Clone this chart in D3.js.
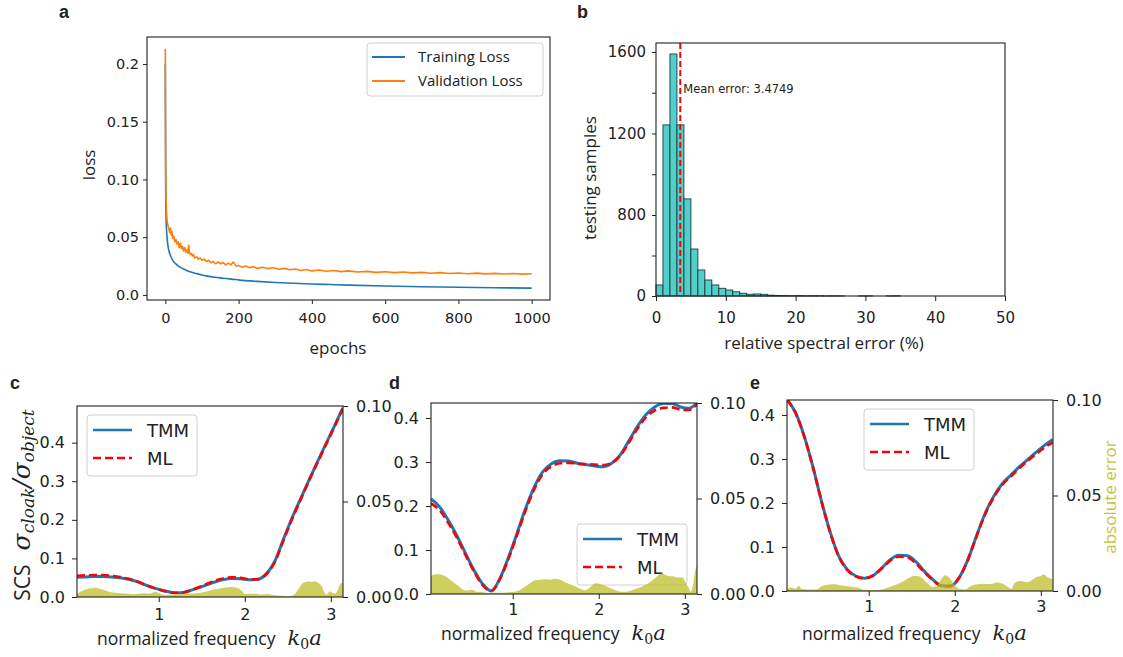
<!DOCTYPE html>
<html>
<head>
<meta charset="utf-8">
<script src="https://d3js.org/d3.v7.min.js"></script>
<style>
  body{margin:0;background:#fff;}
  svg text{font-family:"DejaVu Sans",sans-serif;fill:#222;}
  .lab{font-family:"Open Sans",sans-serif;}
  .plab{font-family:"Liberation Sans",sans-serif;font-weight:bold;font-size:18px;}
  .math{font-family:"DejaVu Serif",serif;font-style:italic;}
</style>
</head>
<body>
<svg id="fig" width="1123" height="657"></svg>
<script>
// ---------- data: panel a (loss curves) ----------
var trainLoss = [[0,0.2],[1,0.09],[2,0.068],[3,0.058],[5,0.049],[7,0.043],[10,0.038],[13,0.035],[17,0.032],
  [21,0.0295],[30,0.0265],[39,0.0243],[50,0.0225],[57,0.0214],[70,0.0198],[85,0.0185],[100,0.0173],[112,0.0165],
  [135,0.0153],[157,0.0145],[180,0.0137],[203,0.0128],[250,0.0117],[300,0.0108],[350,0.0101],[400,0.0095],
  [450,0.009],[500,0.0085],[600,0.0077],[700,0.0071],[800,0.0066],[900,0.0062],[1000,0.0059]];
var valLoss = [[0,0.213],[1,0.11],[2,0.085],[3,0.073],[4,0.068],[5,0.064],[6,0.062],[8,0.059],[10,0.057],[12,0.054],
  [14,0.058],[16,0.052],[18,0.055],[20,0.049],[23,0.051],[26,0.046],[29,0.048],[32,0.044],[35,0.046],[38,0.041],
  [41,0.045],[44,0.04],[47,0.042],[50,0.038],[53,0.041],[56,0.037],[59,0.039],[62,0.036],[64,0.043],[66,0.037],
  [68,0.035],[71,0.036],[74,0.034],[77,0.035],[80,0.032],[85,0.033],[90,0.031],[95,0.032],[100,0.03],[106,0.031],
  [112,0.029],[118,0.03],[124,0.028],[130,0.029],[137,0.027],[144,0.0285],[151,0.027],[158,0.028],[165,0.026],
  [172,0.0275],[179,0.026],[186,0.0285],[193,0.025],[200,0.0255],[210,0.024],[220,0.025],[230,0.0235],[240,0.0245],
  [250,0.023],[265,0.024],[280,0.0228],[295,0.0236],[310,0.0222],[325,0.023],[340,0.0218],[355,0.0225],[370,0.0212],
  [385,0.022],[400,0.0208],[420,0.0216],[440,0.0205],[460,0.0212],[480,0.0202],[500,0.0208],[525,0.0198],[550,0.0204],
  [575,0.0195],[600,0.0201],[625,0.0193],[650,0.0198],[675,0.0191],[700,0.0195],[725,0.0188],[750,0.0193],[775,0.0186],
  [800,0.019],[825,0.0184],[850,0.0189],[875,0.0182],[900,0.0187],[925,0.0181],[950,0.0185],[975,0.018],[1000,0.0183]];
var epochTicks = [0,200,400,600,800,1000];
var lossTicks = [0,0.05,0.1,0.15,0.2];
var lossTickLabels = ["0.0","0.05","0.10","0.15","0.2"];

// ---------- data: panel b (histogram, 1% bins) ----------
var histCounts = [109,1242,1590,1242,879,464,257,158,109,76,59,42,27,17,20,17,8,5,4,3,
  4,2,3,2,1,2,1,0,0,1,1,0,0,1,2,0,0,0,0,0,0,0,0,0,0,0,0,0,0,0];
var meanError = 3.4749;
var errTicks = [0,10,20,30,40,50];
var countTicks = [0,400,800,1000,1200,1400,1600];
var countTickLabels = {0:"0",800:"800",1200:"1200",1600:"1600"};

// ---------- data: panels c, d, e (scattering spectra) ----------
var freq = [0.05,0.15,0.25,0.35,0.45,0.55,0.65,0.75,0.85,0.95,1.05,1.15,1.25,1.35,1.45,1.55,
  1.65,1.75,1.85,1.95,2.05,2.15,2.25,2.35,2.45,2.55,2.65,2.75,2.85,2.95,3.05,3.14];
var tmmC = [0.051,0.052,0.053,0.053,0.052,0.05,0.046,0.04,0.031,0.023,0.017,0.012,0.011,0.0155,0.023,0.031,
  0.039,0.045,0.048,0.047,0.045,0.046,0.06,0.093,0.15,0.205,0.255,0.305,0.353,0.4,0.447,0.49];
var mlC = [0.055,0.056,0.057,0.057,0.055,0.052,0.047,0.04,0.031,0.023,0.016,0.011,0.0105,0.0155,0.024,0.033,
  0.042,0.048,0.051,0.05,0.046,0.046,0.059,0.091,0.147,0.202,0.253,0.303,0.351,0.398,0.445,0.488];
var errC = [[0.05,0.0015],[0.1,0.003],[0.19,0.0045],[0.27,0.0049],[0.34,0.004],[0.42,0.0028],[0.5,0.0022],[0.61,0.0018],
  [0.7,0.0015],[0.81,0.002],[0.9,0.0018],[0.96,0.0028],[1.0,0.0022],[1.04,0.0012],[1.19,0.0013],[1.3,0.0016],[1.39,0.0018],
  [1.5,0.0024],[1.58,0.0031],[1.66,0.004],[1.73,0.0046],[1.85,0.0052],[1.93,0.0045],[1.97,0.003],[2.0,0.0016],[2.12,0.0017],
  [2.2,0.0013],[2.27,0.0014],[2.35,0.0009],[2.43,0.0007],[2.52,0.0004],[2.58,0.0014],[2.62,0.004],[2.66,0.0066],[2.71,0.0079],
  [2.74,0.0082],[2.78,0.0078],[2.81,0.0082],[2.86,0.0072],[2.89,0.006],[2.92,0.003],[2.95,0.0012],[2.99,0.003],[3.02,0.0022],
  [3.05,0.0018],[3.08,0.0035],[3.11,0.007],[3.14,0.0075]];

var tmmD = [0.216,0.198,0.168,0.133,0.093,0.054,0.023,0.007,0.035,0.083,0.138,0.195,0.243,0.278,0.296,0.303,
  0.302,0.297,0.294,0.291,0.289,0.297,0.316,0.348,0.381,0.408,0.425,0.433,0.433,0.425,0.422,0.434];
var mlD = [0.206,0.19,0.162,0.128,0.089,0.051,0.02,0.007,0.033,0.08,0.134,0.19,0.238,0.273,0.29,0.297,
  0.298,0.296,0.295,0.294,0.293,0.298,0.314,0.344,0.376,0.402,0.417,0.423,0.424,0.419,0.418,0.431];
var errD = [[0.05,0.0095],[0.1,0.0104],[0.14,0.0103],[0.21,0.0094],[0.29,0.0068],[0.37,0.0042],[0.45,0.0018],[0.52,0.0022],
  [0.58,0.0012],[0.64,0.001],[0.72,0.0005],[0.79,0.0008],[0.88,0.0006],[0.99,0.001],[1.05,0.0015],[1.1,0.0026],[1.18,0.005],
  [1.26,0.0072],[1.32,0.0075],[1.38,0.0077],[1.44,0.0075],[1.49,0.008],[1.55,0.0074],[1.61,0.0062],[1.72,0.0042],[1.84,0.002],
  [1.9,0.0035],[1.96,0.0056],[2.03,0.005],[2.1,0.0038],[2.15,0.0028],[2.27,0.0012],[2.35,0.0015],[2.42,0.0025],[2.5,0.0038],
  [2.58,0.0058],[2.66,0.0085],[2.73,0.0108],[2.78,0.0098],[2.81,0.0094],[2.87,0.0092],[2.93,0.0086],[2.97,0.0088],[3.0,0.0068],
  [3.04,0.0035],[3.07,0.0012],[3.1,0.006],[3.12,0.012],[3.14,0.0147]];

var tmmE = [0.435,0.405,0.352,0.283,0.205,0.135,0.08,0.049,0.034,0.029,0.035,0.052,0.071,0.081,0.08,0.066,
  0.044,0.025,0.012,0.011,0.03,0.07,0.124,0.175,0.214,0.243,0.263,0.282,0.299,0.316,0.332,0.344];
var mlE = [0.435,0.404,0.351,0.282,0.204,0.134,0.079,0.048,0.033,0.029,0.035,0.051,0.069,0.078,0.076,0.062,
  0.042,0.024,0.011,0.012,0.03,0.07,0.123,0.173,0.212,0.241,0.26,0.279,0.296,0.312,0.327,0.337];
var errE = [[0.05,0.0012],[0.1,0.0018],[0.15,0.0012],[0.19,0.0028],[0.22,0.001],[0.3,0.0008],[0.4,0.0009],[0.45,0.0025],
  [0.5,0.0032],[0.59,0.0035],[0.67,0.003],[0.75,0.0025],[0.86,0.0018],[0.95,0.0006],[1.05,0.0004],[1.15,0.0008],[1.25,0.0022],
  [1.33,0.0035],[1.41,0.0053],[1.47,0.007],[1.52,0.0079],[1.57,0.0078],[1.62,0.0068],[1.68,0.0042],[1.74,0.0022],[1.79,0.0025],
  [1.84,0.006],[1.89,0.0082],[1.94,0.0068],[1.99,0.0035],[2.05,0.0012],[2.12,0.0008],[2.18,0.0025],[2.24,0.0034],[2.34,0.0038],
  [2.42,0.0036],[2.49,0.0044],[2.56,0.0038],[2.61,0.0024],[2.66,0.0012],[2.7,0.0045],[2.76,0.0052],[2.84,0.0046],[2.9,0.0058],
  [2.96,0.0074],[3.0,0.0078],[3.03,0.0088],[3.08,0.0072],[3.14,0.0062]];

var freqTicks = [1,2,3];
var scsTicks = [0,0.1,0.2,0.3,0.4];
var absTicks = [0,0.05,0.1];
var seriesNames = ["TMM","ML"];

var blue = "#1f77b4", orange = "#ff7f0e", olive = "#bcbd22", oliveText = "#c4c43c";

var svg = d3.select("#fig");
svg.append("rect").attr("width",1123).attr("height",657).attr("fill","#fff");

//style an axis group: drop domain line, set tick font
function styleAxis(g, size, color){
  g.select(".domain").remove();
  g.selectAll(".tick line").attr("stroke","#222");
  g.selectAll(".tick text").attr("font-family","DejaVu Sans").attr("font-size",size)
    .attr("fill", color || "#222");
  return g;
}

function frame(l,t,r,b){
  svg.append("rect").attr("x",l).attr("y",t).attr("width",r-l).attr("height",b-t)
    .attr("fill","none").attr("stroke","#222").attr("stroke-width",1.1);
}

// ================= panel a =================
var ax = d3.scaleLinear().domain([-50,1050]).range([147,550]);
var ay = d3.scaleLinear().domain([-0.0044,0.2234]).range([300,37]);

svg.append("defs").append("clipPath").attr("id","clipA")
  .append("rect").attr("x",147).attr("y",37).attr("width",403).attr("height",263);

var lineA = d3.line().x(function(d){ return ax(d[0]); }).y(function(d){ return ay(d[1]); });
svg.append("path").attr("d", lineA.curve(d3.curveMonotoneX)(trainLoss)).attr("fill","none")
  .attr("stroke",blue).attr("stroke-width",1.6).attr("clip-path","url(#clipA)");
svg.append("path").attr("d", lineA.curve(d3.curveLinear)(valLoss)).attr("fill","none")
  .attr("stroke",orange).attr("stroke-width",1.6).attr("stroke-linejoin","round").attr("clip-path","url(#clipA)");

frame(147,37,550,300);
styleAxis(svg.append("g").attr("transform","translate(0,300)")
  .call(d3.axisBottom(ax).tickValues(epochTicks).tickSize(4).tickPadding(9).tickSizeOuter(0)
    .tickFormat(d3.format("d"))), "14.5px");
styleAxis(svg.append("g").attr("transform","translate(147,0)")
  .call(d3.axisLeft(ay).tickValues(lossTicks).tickSize(4).tickPadding(4).tickSizeOuter(0)
    .tickFormat(function(d,i){ return lossTickLabels[i]; })), "14.5px");

svg.append("text").attr("class","lab").attr("x",338).attr("y",354).attr("text-anchor","middle")
  .attr("font-size","17px").text("epochs");
svg.append("text").attr("class","lab").attr("transform","translate(95,165) rotate(-90)")
  .attr("text-anchor","middle").attr("font-size","17px").text("loss");

// legend a
var legA = svg.append("g");
legA.append("rect").attr("x",367).attr("y",43).attr("width",176).attr("height",53).attr("rx",3)
  .attr("fill","#fff").attr("fill-opacity",0.8).attr("stroke","#d0d0d0");
[["Training Loss",blue,57],["Validation Loss",orange,81]].forEach(function(e){
  legA.append("line").attr("x1",372).attr("x2",405).attr("y1",e[2]).attr("y2",e[2])
    .attr("stroke",e[1]).attr("stroke-width",2);
  legA.append("text").attr("class","lab").attr("x",418).attr("y",e[2]+5).attr("font-size","15px").text(e[0]);
});
svg.append("text").attr("class","plab").attr("x",59).attr("y",18).text("a");

// ================= panel b =================
var bx = d3.scaleLinear().domain([0,50]).range([656,1005]);
var by = d3.scaleLinear().domain([0,800,1644]).range([296,215,43]);

svg.append("g").selectAll("rect").data(histCounts).enter().append("rect")
  .attr("x", function(d,i){ return bx(i); })
  .attr("y", function(d){ return by(d); })
  .attr("width", function(d,i){ return bx(i+1)-bx(i); })
  .attr("height", function(d){ return by(0)-by(d); })
  .attr("fill","#52cecb").attr("stroke","#1d3b3b").attr("stroke-width",0.9);

svg.append("line").attr("x1",bx(meanError)).attr("x2",bx(meanError)).attr("y1",43).attr("y2",296)
  .attr("stroke","#ff0000").attr("stroke-width",2).attr("stroke-dasharray","6,3");
svg.append("text").attr("x",bx(meanError)+3).attr("y",93).attr("font-size","11.5px")
  .text("Mean error: " + meanError);

frame(656,43,1005,296);
styleAxis(svg.append("g").attr("transform","translate(0,296)")
  .call(d3.axisBottom(bx).tickValues(errTicks).tickSize(5).tickPadding(11).tickSizeOuter(0)), "15px");
styleAxis(svg.append("g").attr("transform","translate(656,0)")
  .call(d3.axisLeft(by).tickValues(countTicks).tickSize(4).tickPadding(6).tickSizeOuter(0)
    .tickFormat(function(d){ return countTickLabels[d] || ""; })), "15px");

svg.append("text").attr("class","lab").attr("x",824).attr("y",349).attr("text-anchor","middle")
  .attr("font-size","17px").text("relative spectral error (%)");
svg.append("text").attr("class","lab").attr("transform","translate(596,178) rotate(-90)")
  .attr("text-anchor","middle").attr("font-size","17px").text("testing samples");
svg.append("text").attr("class","plab").attr("x",577).attr("y",18).text("b");

// ================= panels c, d, e =================
function spectrum(p){
  var x = d3.scaleLinear().domain([0.05,Math.PI]).range([p.l,p.l+266]);
  var y = d3.scaleLinear().domain([0,p.ymax]).range([p.b,p.t]);
  var y2 = d3.scaleLinear().domain([0,0.1]).range([p.b,p.t]);
  var r = p.l+266;
  var cid = "clip"+p.name;
  svg.select("defs").append("clipPath").attr("id",cid)
    .append("rect").attr("x",p.l).attr("y",p.t).attr("width",266).attr("height",p.b-p.t);

  var line = d3.line().curve(d3.curveMonotoneX)
    .x(function(d,i){ return x(freq[i]); }).y(function(d){ return y(d); });
  svg.append("path").attr("d",line(p.tmm)).attr("fill","none").attr("stroke",blue)
    .attr("stroke-width",3).attr("clip-path","url(#"+cid+")");
  svg.append("path").attr("d",line(p.ml)).attr("fill","none").attr("stroke","#ff0000")
    .attr("stroke-width",2.6).attr("stroke-dasharray","8,4").attr("clip-path","url(#"+cid+")");

  // legend
  var lg = svg.append("g");
  lg.append("rect").attr("x",p.lx).attr("y",p.ly).attr("width",110).attr("height",61).attr("rx",3)
    .attr("fill","#fff").attr("fill-opacity",0.8).attr("stroke","#d0d0d0");
  seriesNames.forEach(function(n,i){
    var yy = p.ly+15+i*28;
    lg.append("line").attr("x1",p.lx+6).attr("x2",p.lx+45).attr("y1",yy).attr("y2",yy)
      .attr("stroke", i==0 ? blue : "#ff0000").attr("stroke-width",2.6)
      .attr("stroke-dasharray", i==0 ? null : "8,4");
    lg.append("text").attr("x",p.lx+60).attr("y",yy+7).attr("font-size","18px").text(n);
  });

  // absolute error on twin axis
  var area = d3.area().curve(d3.curveMonotoneX)
    .x(function(d){ return x(d[0]); }).y0(y2(0)).y1(function(d){ return y2(d[1]); });
  svg.append("path").attr("d",area(p.err)).attr("fill",olive).attr("fill-opacity",0.72)
    .attr("clip-path","url(#"+cid+")");

  frame(p.l,p.t,r,p.b);
  styleAxis(svg.append("g").attr("transform","translate(0,"+p.b+")")
    .call(d3.axisBottom(x).tickValues(freqTicks).tickSize(5).tickPadding(p.xpad).tickSizeOuter(0)
      .tickFormat(d3.format("d"))), "16px");
  styleAxis(svg.append("g").attr("transform","translate("+p.l+",0)")
    .call(d3.axisLeft(y).tickValues(scsTicks).tickSize(5).tickPadding(7).tickSizeOuter(0)
      .tickFormat(d3.format(".1f"))), "16px");
  styleAxis(svg.append("g").attr("transform","translate("+r+",0)")
    .call(d3.axisRight(y2).tickValues(absTicks).tickSize(5).tickPadding(8).tickSizeOuter(0)
      .tickFormat(d3.format(".2f"))), "16px", oliveText);

  // x label
  var t = svg.append("text").attr("class","lab").attr("x",p.xl).attr("y",p.xb).attr("font-size","17.5px");
  t.append("tspan").text("normalized frequency");
  t.append("tspan").attr("class","math").attr("dx",12).attr("font-size","21px").text("k");
  t.append("tspan").attr("font-family","DejaVu Serif").attr("font-size","14px").attr("dy",4).text("0");
  t.append("tspan").attr("class","math").attr("font-size","21px").attr("dy",-4).text("a");

  svg.append("text").attr("class","plab").attr("x",p.pl[0]).attr("y",p.pl[1]).text(p.name);
}

spectrum({name:"c",l:77,t:406,b:597,ymax:0.495,tmm:tmmC,ml:mlC,err:errC,lx:87,ly:415,xpad:7,xl:97,xb:645,pl:[10,389]});
spectrum({name:"d",l:431,t:403,b:594,ymax:0.434,tmm:tmmD,ml:mlD,err:errD,lx:577,ly:524,xpad:5,xl:441,xb:640,pl:[389,389]});
spectrum({name:"e",l:787,t:400,b:591,ymax:0.434,tmm:tmmE,ml:mlE,err:errE,lx:864,ly:409,xpad:5,xl:802,xb:640,pl:[750,389]});

// y label of panel c (SCS ratio)
var yl = svg.append("text").attr("transform","translate(30,505) rotate(-90)").attr("text-anchor","middle");
yl.append("tspan").attr("class","lab").attr("font-size","21px").text("SCS");
yl.append("tspan").attr("class","math").attr("dx",14).attr("font-size","25px").text("σ");
yl.append("tspan").attr("class","math").attr("font-size","17px").attr("dy",4).text("cloak");
yl.append("tspan").attr("class","math").attr("font-size","25px").attr("dy",-4).text("/");
yl.append("tspan").attr("class","math").attr("font-size","25px").text("σ");
yl.append("tspan").attr("class","math").attr("font-size","17px").attr("dy",4).text("object");

// right y label of panel e
svg.append("text").attr("class","lab").attr("transform","translate(1116,497) rotate(-90)")
  .attr("text-anchor","middle").attr("font-size","17px").style("fill",oliveText)
  .text("absolute error");
</script>
</body>
</html>
